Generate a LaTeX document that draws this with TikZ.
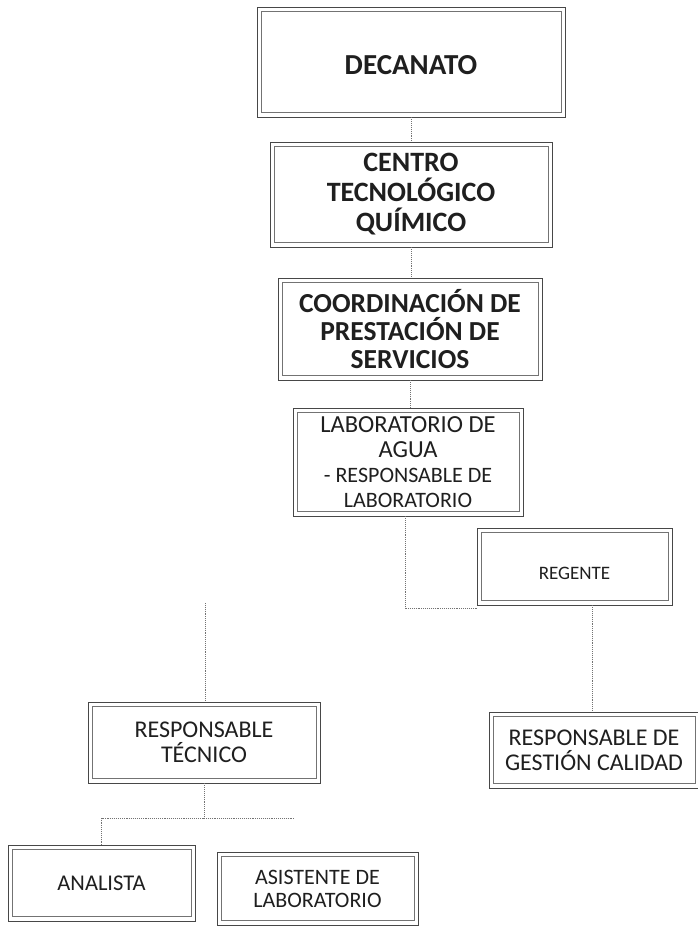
\documentclass[tikz,border=0pt]{standalone}
\usepackage{fontspec}
\setmainfont{Carlito}
\begin{document}
\begin{tikzpicture}[x=1pt,y=-1pt,
  box/.style={draw=black!72, line width=0.9pt, rectangle, inner sep=0pt, align=center, text=black!88},
  innerline/.style={draw=black!55, line width=0.7pt},
  conn/.style={draw=black!55, densely dotted, line width=0.9pt}]
\useasboundingbox (0,0) rectangle (698,930);
\fill[white] (0,0) rectangle (698,930);

\node[box, minimum width=308pt, minimum height=110pt, text height=24pt, text depth=0pt, font=\bfseries\fontsize{29}{30}\selectfont] (dec) at (411,62) {DECANATO};
\node[box, minimum width=282pt, minimum height=105pt, font=\bfseries\fontsize{28}{30}\selectfont] (cen) at (411,194.5) {CENTRO\\TECNOLÓGICO\\QUÍMICO};
\node[box, minimum width=264pt, minimum height=102pt, font=\bfseries\fontsize{27.5}{28}\selectfont] (coo) at (410,329) {COORDINACIÓN DE\\PRESTACIÓN DE\\SERVICIOS};
\node[box, minimum width=230pt, minimum height=108pt, font=\fontsize{24.5}{25}\selectfont] (lab) at (408,462)
  {LABORATORIO DE\\AGUA\\\fontsize{22}{22}\selectfont - RESPONSABLE DE\\\fontsize{22}{22}\selectfont LABORATORIO};
\node[box, minimum width=195pt, minimum height=77pt, text height=26pt, text depth=0pt, font=\fontsize{19}{22}\selectfont] (reg) at (574.5,566.5) {REGENTE};
\node[box, minimum width=232pt, minimum height=81pt, font=\fontsize{24}{25}\selectfont] (rt) at (204,742.5) {RESPONSABLE\\TÉCNICO};
\node[box, minimum width=210pt, minimum height=76pt, font=\fontsize{24}{25}\selectfont] (ges) at (594,750) {RESPONSABLE DE\\GESTIÓN CALIDAD};
\node[box, minimum width=187pt, minimum height=76pt, font=\fontsize{22.5}{23}\selectfont] (ana) at (101.5,883) {ANALISTA};
\node[box, minimum width=201pt, minimum height=73pt, font=\fontsize{22}{23}\selectfont] (asi) at (317.5,888.5) {ASISTENTE DE\\LABORATORIO};

\foreach \n in {dec,cen,coo,lab,reg,rt,ges,ana,asi}
  \draw[innerline] ([shift={(4.5pt,-5pt)}]\n.north west) rectangle ([shift={(-4.5pt,5pt)}]\n.south east);

\draw[conn] (dec.south) -- (cen.north);
\draw[conn] (cen.south) -- (cen.south |- coo.north);
\draw[conn] (coo.south) -- (coo.south |- lab.north);
\draw[conn] ([xshift=-3pt]lab.south) |- ([yshift=-3pt]reg.south west);
\draw[conn] ([xshift=18pt]reg.south) -- ([xshift=18pt]reg.south |- ges.north);
\coordinate (rttop) at (205,603);
\draw[conn] (rttop) -- (rttop |- rt.north);
\coordinate (stub) at (294,818);
\draw[conn] (rt.south) -- (rt.south |- stub) -| (ana.north);
\draw[conn] (rt.south |- stub) -- (stub);
\end{tikzpicture}
\end{document}
